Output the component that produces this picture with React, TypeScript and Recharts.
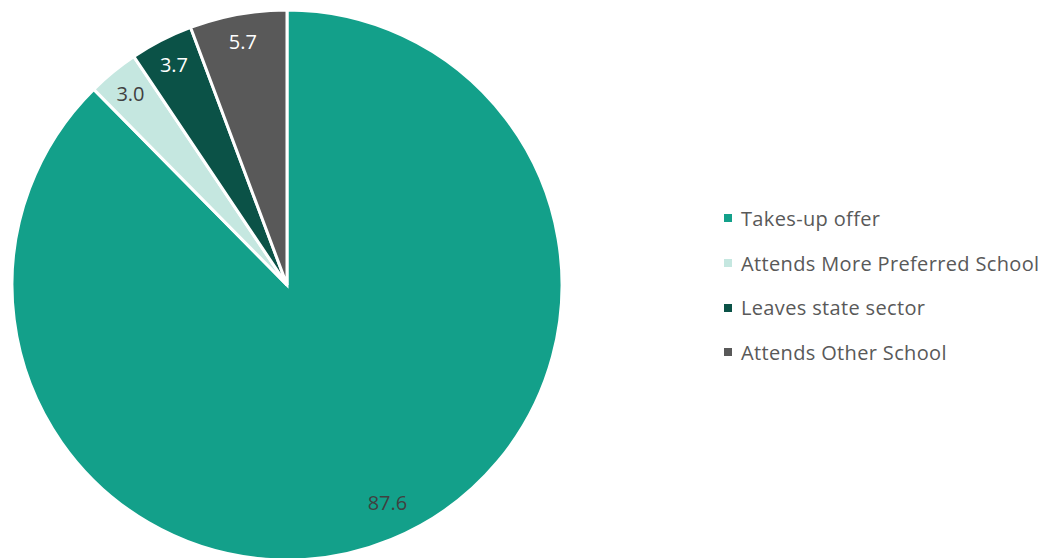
import React from "react";
import { PieChart, Pie, Cell, Legend } from "recharts";

const categories = ["Takes-up offer", "Attends More Preferred School", "Leaves state sector", "Attends Other School"];
const shares = [87.6, 3.0, 3.7, 5.7];
const colors = ["#13A08A", "#C5E7E0", "#0B5247", "#595959"];
const labelColors = ["#404040", "#404040", "#FFFFFF", "#FFFFFF"];

const data = categories.map((name, i) => ({ name, value: shares[i] }));

const RAD = Math.PI / 180;
const FONT = "'Open Sans', Lato, sans-serif";

function renderLabel(props: any) {
  const { cx, cy, midAngle, outerRadius, index, value } = props;
  // the big slice's label sits a little further in and rotated, as in the original
  const r = outerRadius * (index === 0 ? 0.87 : 0.9);
  const a = midAngle + (index === 0 ? 2.5 : 0);
  const x = cx + r * Math.cos(-a * RAD);
  const y = cy + r * Math.sin(-a * RAD);
  return (
    <text
      x={x}
      y={y}
      fill={labelColors[index]}
      textAnchor="middle"
      dominantBaseline="central"
      fontSize={20}
      fontFamily={FONT}
    >
      {value.toFixed(1)}
    </text>
  );
}

function LegendBox() {
  return (
    <div style={{ fontFamily: FONT, fontSize: 20, letterSpacing: 0.35, color: "#595959" }}>
      {data.map((d, i) => (
        <div key={d.name} style={{ display: "flex", alignItems: "center", height: 44.7 }}>
          <span style={{ display: "inline-block", width: 8, height: 8, background: colors[i], marginRight: 9 }} />
          <span>{d.name}</span>
        </div>
      ))}
    </div>
  );
}

export default function App() {
  return (
    <div style={{ position: "absolute", left: 0, top: 0, width: 1050, height: 558, background: "#fff" }}>
      <PieChart width={1050} height={558} margin={{ top: 0, right: 0, bottom: 0, left: 0 }}>
        <Pie
          data={data}
          dataKey="value"
          nameKey="name"
          cx={287}
          cy={285}
          outerRadius={275}
          startAngle={90}
          endAngle={-270}
          stroke="#FFFFFF"
          strokeWidth={3}
          label={renderLabel}
          labelLine={false}
          isAnimationActive={false}
        >
          {data.map((d, i) => (
            <Cell key={d.name} fill={colors[i]} />
          ))}
        </Pie>
        <Legend
          content={<LegendBox />}
          wrapperStyle={{ left: 724, top: 196, width: 330 }}
        />
      </PieChart>
    </div>
  );
}
